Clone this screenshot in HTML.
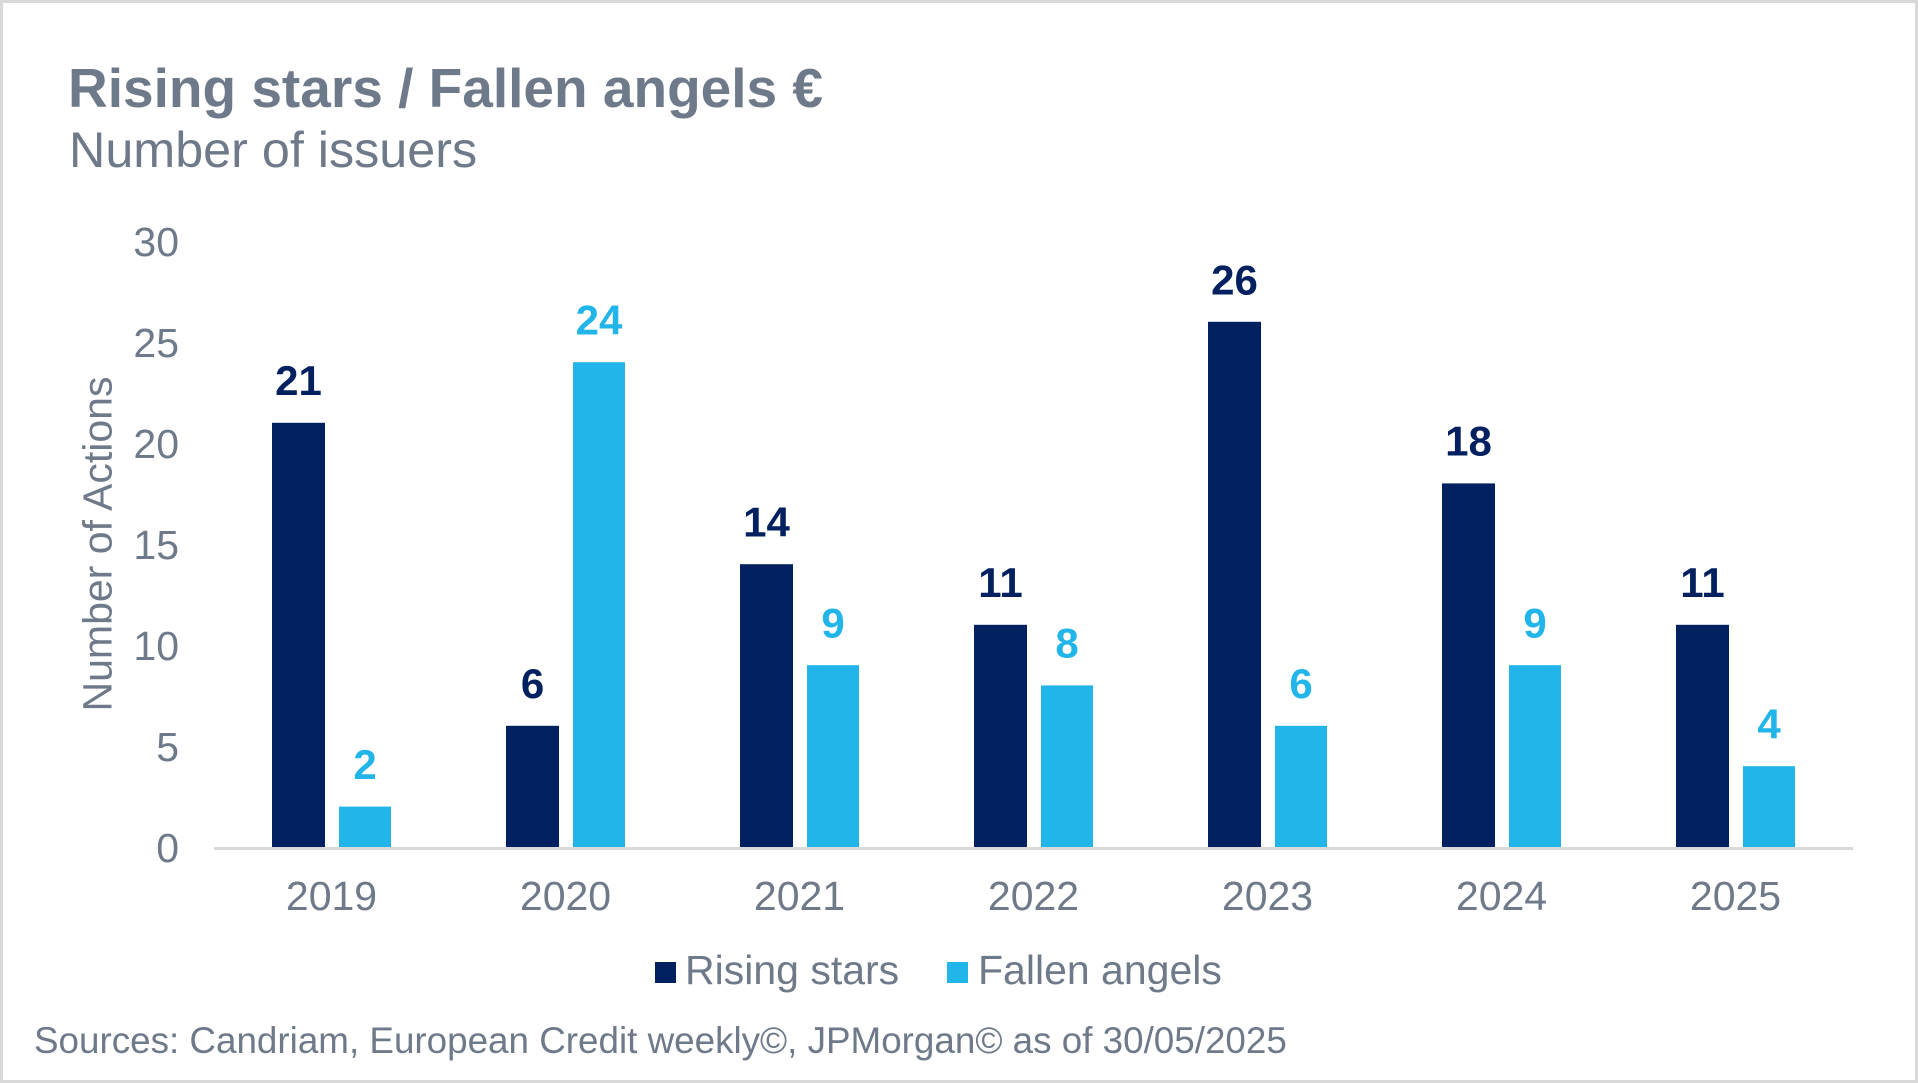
<!DOCTYPE html>
<html>
<head>
<meta charset="utf-8">
<style>
  html, body { margin: 0; padding: 0; background: #ffffff; }
  body { width: 1918px; height: 1083px; overflow: hidden; }
  svg { display: block; }
  text { font-family: "Liberation Sans", Arial, sans-serif; }
</style>
</head>
<body>
<svg width="1918" height="1083" viewBox="0 0 1918 1083" xmlns="http://www.w3.org/2000/svg">
  <rect x="1.5" y="1.5" width="1915" height="1080" fill="#ffffff" stroke="#d9d9d9" stroke-width="3"/>

  <!-- Title -->
  <text x="68" y="107" font-size="55" font-weight="bold" fill="#6e7989">Rising stars / Fallen angels €</text>
  <text x="69" y="167" font-size="50.3" fill="#6e7989">Number of issuers</text>

  <!-- Y axis tick labels -->
  <g font-size="41" fill="#6e7989" text-anchor="end">
    <text x="179" y="256">30</text>
    <text x="179" y="357">25</text>
    <text x="179" y="458">20</text>
    <text x="179" y="559">15</text>
    <text x="179" y="660">10</text>
    <text x="179" y="761">5</text>
    <text x="179" y="862">0</text>
  </g>

  <!-- Y axis title -->
  <text x="111.5" y="544" font-size="41" fill="#6e7989" text-anchor="middle" transform="rotate(-90 111.5 544)">Number of Actions</text>

  <!-- Bars: Rising stars -->
  <g fill="#002060">
    <rect x="272" y="422.8" width="53" height="424.2"/>
    <rect x="506" y="725.8" width="53" height="121.2"/>
    <rect x="740" y="564.2" width="53" height="282.8"/>
    <rect x="974" y="624.8" width="53" height="222.2"/>
    <rect x="1208" y="321.8" width="53" height="525.2"/>
    <rect x="1442" y="483.4" width="53" height="363.6"/>
    <rect x="1676" y="624.8" width="53" height="222.2"/>
  </g>
  <!-- Bars: Fallen angels -->
  <g fill="#21b5ea">
    <rect x="339" y="806.6" width="52" height="40.4"/>
    <rect x="573" y="362.2" width="52" height="484.8"/>
    <rect x="807" y="665.2" width="52" height="181.8"/>
    <rect x="1041" y="685.4" width="52" height="161.6"/>
    <rect x="1275" y="725.8" width="52" height="121.2"/>
    <rect x="1509" y="665.2" width="52" height="181.8"/>
    <rect x="1743" y="766.2" width="52" height="80.8"/>
  </g>

  <!-- Axis line -->
  <rect x="214" y="847" width="1639" height="3" fill="#d9d9d9"/>

  <!-- Data labels -->
  <g font-size="42" font-weight="bold" text-anchor="middle" fill="#002060">
    <text x="298.5" y="395">21</text>
    <text x="532.5" y="698">6</text>
    <text x="766.5" y="536.5">14</text>
    <text x="1000.5" y="597">11</text>
    <text x="1234.5" y="294.5">26</text>
    <text x="1468.5" y="455.5">18</text>
    <text x="1702.5" y="597">11</text>
  </g>
  <g font-size="42" font-weight="bold" text-anchor="middle" fill="#21b5ea">
    <text x="365" y="779">2</text>
    <text x="599" y="334.5">24</text>
    <text x="833" y="637.5">9</text>
    <text x="1067" y="657.5">8</text>
    <text x="1301" y="698">6</text>
    <text x="1535" y="637.5">9</text>
    <text x="1769" y="738.5">4</text>
  </g>

  <!-- Category labels -->
  <g font-size="41" fill="#6e7989" text-anchor="middle">
    <text x="331.5" y="910">2019</text>
    <text x="565.5" y="910">2020</text>
    <text x="799.5" y="910">2021</text>
    <text x="1033.5" y="910">2022</text>
    <text x="1267.5" y="910">2023</text>
    <text x="1501.5" y="910">2024</text>
    <text x="1735.5" y="910">2025</text>
  </g>

  <!-- Legend -->
  <rect x="655" y="962" width="21" height="21" fill="#002060"/>
  <text x="685" y="984" font-size="41" fill="#6e7989">Rising stars</text>
  <rect x="947" y="962" width="21" height="21" fill="#21b5ea"/>
  <text x="978" y="984" font-size="41" fill="#6e7989">Fallen angels</text>

  <!-- Sources -->
  <text x="34" y="1053" font-size="36.8" fill="#6e7989">Sources: Candriam, European Credit weekly©, JPMorgan© as of 30/05/2025</text>
</svg>
</body>
</html>
